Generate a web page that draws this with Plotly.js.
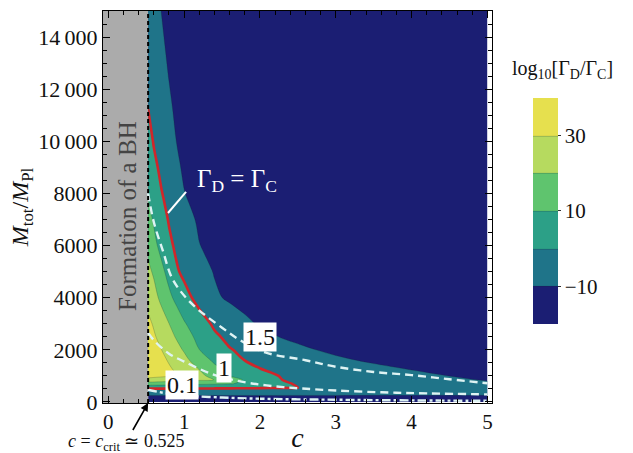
<!DOCTYPE html>
<html><head><meta charset="utf-8">
<script src="https://cdn.plot.ly/plotly-3.0.1.min.js"></script>
<style>html,body{margin:0;padding:0;background:#fff}#chart{width:633px;height:453px}</style>
</head><body><div id="chart"></div>
<script>
// ---- data ----
const cCrit = 0.525;
const cValues = [0.525, 0.6, 0.7, 0.8, 0.9, 1.0, 1.2, 1.4, 1.6, 1.8, 2.0, 2.3, 2.6, 3.0, 3.5, 4.0, 4.5, 5.0];
const mValues = [0, 150, 300, 450, 550, 700, 850, 1000, 1300, 1600, 2000, 2500, 3000, 4000, 5000, 6000, 7000, 8000, 9000, 10000, 11300, 13000, 15000];
// log10[Gamma_D/Gamma_C], one row per M value
const logRatio = [
  [-20,-20,-20,-20,-20,-20,-20,-20,-20,-20,-20,-20,-20,-20,-20,-20,-20,-20],
  [-14,-14,-14,-14,-14,-14,-14,-14,-14,-14,-14,-14,-14,-14,-14,-14,-14,-14],
  [-8,-8,-8,-8,-8,-8,-8,-8,-8,-8,-8,-8,-8,-8.1,-8.2,-8.3,-8.4,-8.5],
  [-3,-3,-3,-3,-3,-3,-3,-3,-3,-3,-3,-3.1,-3.3,-3.6,-4.0,-4.4,-4.8,-5.2],
  [2.0,1.95,1.9,1.8,1.7,1.6,1.45,1.3,1.15,1.0,0.8,0.4,-0.2,-1.2,-2.5,-3.8,-5.1,-6.5],
  [15,14.7,14.3,13.8,13.3,12.9,12.0,11.2,10.4,8.9,5.8,0.8,-1.2,-2.2,-3.8,-5.3,-6.9,-8.5],
  [27,26.4,25.6,24.8,24.0,23.2,21.6,19.9,14.3,9.1,5.3,-0.1,-1.3,-2.8,-4.8,-6.7,-8.6,-10.6],
  [33,32.4,31.6,30.8,30.1,27.5,22.5,16.7,10.1,6.4,2.7,-0.6,-1.9,-3.6,-5.7,-7.9,-10.1,-11.5],
  [35.5,34.2,32.5,30.8,28.5,25.5,19.3,11.9,7.2,3.4,-0.1,-1.8,-3.4,-5.6,-8.4,-10.7,-12.3,-14],
  [36,34.2,31.9,29.3,26,22.7,15,8.3,4.2,-0.1,-1.4,-3.6,-5.7,-8.6,-11.2,-13.1,-15.1,-17],
  [35,32.9,30.1,26.4,22.9,19.1,10.1,5.2,0.5,-1.7,-3.5,-6.3,-9.1,-11.7,-14.4,-17.2,-20,-20],
  [34,31.1,27.2,23.2,19.1,14.5,7.1,1.4,-2,-4.7,-7.3,-10.6,-12.5,-15,-18.1,-20,-20,-20],
  [32,29.1,24.5,20.1,15.5,10.9,4,-1.4,-4.8,-8.3,-10.8,-13.1,-15.4,-18.5,-20,-20,-20,-20],
  [27,23.1,17.8,12.2,7.5,3.3,-3.2,-8.6,-11.3,-13,-14.8,-17.4,-20,-20,-20,-20,-20,-20],
  [22,18.8,12.5,6.7,1.1,-2,-6.6,-10.5,-12.9,-14.9,-16.9,-20,-20,-20,-20,-20,-20,-20],
  [17.5,12.6,7,2,-1.7,-4.4,-9.8,-12.2,-14.4,-16.7,-18.9,-20,-20,-20,-20,-20,-20,-20],
  [13,9,4,-0.7,-4,-7.0,-11.2,-13.9,-16.3,-18.8,-20,-20,-20,-20,-20,-20,-20,-20],
  [9.5,5.7,0.5,-3.1,-6.4,-9.8,-12.5,-15,-17.5,-20,-20,-20,-20,-20,-20,-20,-20,-20],
  [6.5,2.3,-2.1,-5.5,-8.8,-11,-14,-17,-20,-20,-20,-20,-20,-20,-20,-20,-20,-20],
  [4,-0.7,-4,-7.3,-10.1,-11.9,-15.2,-18.4,-20,-20,-20,-20,-20,-20,-20,-20,-20,-20],
  [-0.2,-2.5,-5.7,-9,-11.2,-13,-16.5,-20,-20,-20,-20,-20,-20,-20,-20,-20,-20,-20],
  [-3,-5.2,-8.2,-10.7,-12.6,-14.4,-18.1,-20,-20,-20,-20,-20,-20,-20,-20,-20,-20,-20],
  [-6,-7.7,-10.1,-12,-14,-16,-20,-20,-20,-20,-20,-20,-20,-20,-20,-20,-20,-20]
];
// dashed white curves (labelled 1.5, 1, 0.1)
const curve15C = [0.525, 0.6, 0.72, 0.85, 1.1, 1.5, 1.75, 2.07, 2.6, 3.0, 3.5, 4.0, 4.5, 5.0];
const curve15M = [8000, 6900, 5800, 4700, 3770, 2850, 2350, 1900, 1600, 1350, 1150, 1030, 870, 720];
const curve1C = [0.525, 0.61, 0.8, 1.0, 1.34, 1.6, 1.87, 2.2, 2.53, 3.0, 3.6, 4.2, 5.0];
const curve1M = [2650, 2340, 1850, 1550, 1100, 880, 720, 600, 520, 440, 370, 330, 290];
const curve01C = [0.525, 0.6, 0.75, 1.0, 1.5, 2.0, 2.5, 3.0, 3.5, 4.0, 4.5, 5.0];
const curve01M = [470, 420, 340, 250, 170, 125, 100, 85, 70, 60, 50, 45];
const xTicks = [0, 1, 2, 3, 4, 5];
const yTicks = [0, 2000, 4000, 6000, 8000, 10000, 12000, 14000];
const yTickText = ['0', '2000', '4000', '6000', '8000', '10\u2009000', '12\u2009000', '14\u2009000'];
const cbTicks = [-10, 10, 30];
const cbTickText = ['\u221210', '10', '30'];
const bandColors = ['#1b1e73', '#1f7489', '#2ca087', '#5fc46e', '#b6da5f', '#e6e04e'];

const serif = 'Liberation Serif, Times New Roman, serif';
const dashCol = '#def3f3';

const traces = [
  {
    type: 'contour', x: cValues, y: mValues, z: logRatio,
    autocontour: false,
    contours: {start: -10, end: 30, size: 10, coloring: 'fill', showlines: true},
    line: {width: 0.6, color: 'rgba(20,40,40,0.35)', smoothing: 1},
    colorscale: bandColors.map((c, i) => [i / (bandColors.length - 1), c]),
    zauto: false, zmin: -20, zmax: 40,
    hoverinfo: 'skip',
    colorbar: {
      x: 1.105, xanchor: 'left', xref: 'paper', xpad: 0,
      y: 0.49, yanchor: 'middle', ypad: 0,
      len: 226, lenmode: 'pixels', thickness: 25, thicknessmode: 'pixels',
      outlinewidth: 0, ticks: 'outside', ticklen: 3, tickcolor: '#333',
      tickmode: 'array', tickvals: cbTicks, ticktext: cbTickText,
      tickfont: {family: serif, size: 21, color: '#111'}
    }
  },
  {
    type: 'contour', x: cValues, y: mValues, z: logRatio,
    autocontour: false, showscale: false,
    contours: {start: 0, end: 0, size: 1, coloring: 'none'},
    line: {width: 2.6, color: '#d0262a', smoothing: 1},
    hoverinfo: 'skip'
  },
  {type: 'scatter', mode: 'lines', x: curve15C, y: curve15M, line: {color: dashCol, width: 2.4, dash: '8px,5px', shape: 'spline'}, hoverinfo: 'skip'},
  {type: 'scatter', mode: 'lines', x: curve1C, y: curve1M, line: {color: dashCol, width: 2.4, dash: '8px,5px', shape: 'spline'}, hoverinfo: 'skip'},
  {type: 'scatter', mode: 'lines', x: curve01C, y: curve01M, line: {color: dashCol, width: 2.4, dash: 'dashdot', shape: 'spline'}, hoverinfo: 'skip'}
];

const axisCommon = {
  showline: true, linecolor: '#000', linewidth: 1, mirror: 'allticks',
  ticks: 'inside', ticklen: 7, tickcolor: '#000', tickwidth: 1,
  showgrid: false, zeroline: false,
  tickfont: {family: serif, size: 22, color: '#111'}
};

const layout = {
  width: 633, height: 453,
  margin: {l: 103, r: 141, t: 11, b: 50},
  paper_bgcolor: '#fff', plot_bgcolor: '#fff',
  showlegend: false,
  font: {family: serif, color: '#111'},
  xaxis: Object.assign({}, axisCommon, {
    range: [-0.07, 5.06], tickmode: 'array', tickvals: xTicks,
    tickfont: {family: serif, size: 21, color: '#111'},
    minor: {dtick: 0.2, tick0: 0, ticks: 'inside', ticklen: 4, tickcolor: '#000'},
    title: {text: '<i>c</i>', font: {family: serif, size: 28, color: '#111'}, standoff: 4}
  }),
  yaxis: Object.assign({}, axisCommon, {
    range: [-40, 15000], tickmode: 'array', tickvals: yTicks, ticktext: yTickText,
    minor: {dtick: 500, tick0: 0, ticks: 'inside', ticklen: 4, tickcolor: '#000'},
    title: {text: '<i>M</i><sub>tot</sub>/<i>M</i><sub>Pl</sub>', font: {family: serif, size: 24, color: '#111'}, standoff: 2}
  }),
  shapes: [
    {type: 'rect', layer: 'below', xref: 'x', yref: 'paper', x0: -0.07, x1: cCrit, y0: 0, y1: 1, fillcolor: '#ababab', line: {width: 0}},
    {type: 'line', layer: 'above', xref: 'x', yref: 'paper', x0: cCrit, x1: cCrit, y0: 0, y1: 1, line: {color: '#000', width: 2, dash: '4px,3px'}},
    {type: 'line', layer: 'above', xref: 'x', yref: 'y', x0: 0.787, y0: 7250, x1: 1.025, y1: 8060, line: {color: '#fff', width: 2}}
  ],
  annotations: [
    {xref: 'x', yref: 'y', x: 0.26, y: 7140, text: 'Formation of a BH', textangle: -90, showarrow: false, font: {family: serif, size: 25, color: '#444'}},
    {xref: 'x', yref: 'y', x: 1.70, y: 8480, text: '\u0393<sub>D</sub> = \u0393<sub>C</sub>', showarrow: false, font: {family: serif, size: 25, color: '#fff'}},
    {xref: 'x', yref: 'y', x: 2.0, y: 2494, text: '1.5', showarrow: false, bgcolor: '#fff', borderpad: 1, font: {family: serif, size: 24, color: '#111'}},
    {xref: 'x', yref: 'y', x: 1.526, y: 1305, text: '1', showarrow: false, bgcolor: '#fff', borderpad: 1, font: {family: serif, size: 24, color: '#111'}},
    {xref: 'x', yref: 'y', x: 0.972, y: 652, text: '0.1', showarrow: false, bgcolor: '#fff', borderpad: 1, font: {family: serif, size: 24, color: '#111'}},
    {xref: 'x', yref: 'paper', x: cCrit, y: 0, ax: -22, ay: 39, text: '<i>c</i> = <i>c</i><sub>crit</sub> \u2243 0.525', showarrow: true, arrowhead: 2, arrowsize: 1, arrowwidth: 1.6, arrowcolor: '#000', standoff: 0, borderpad: 0, font: {family: serif, size: 18, color: '#111'}},
    {xref: 'paper', yref: 'paper', x: 1.18, y: 0.85, xanchor: 'center', yanchor: 'middle', text: 'log<sub>10</sub>[\u0393<sub>D</sub>/\u0393<sub>C</sub>]', showarrow: false, font: {family: serif, size: 20, color: '#111'}}
  ]
};

Plotly.newPlot('chart', traces, layout, {displayModeBar: false, staticPlot: true});
</script>
</body></html>
